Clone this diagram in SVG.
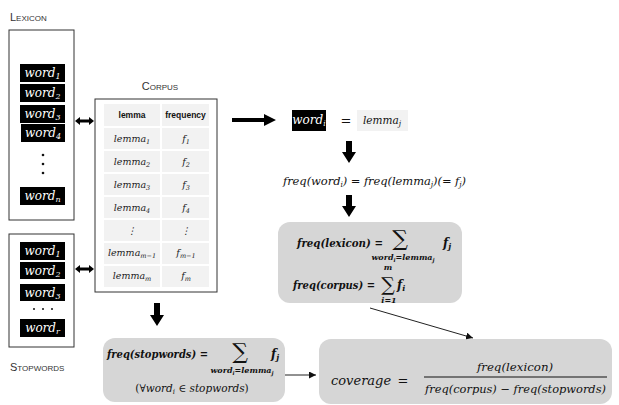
<svg xmlns="http://www.w3.org/2000/svg" width="619" height="405" viewBox="0 0 619 405">
<style>
.lbl{font-family:"Liberation Sans",sans-serif;font-variant:small-caps;font-size:11px;fill:#333}
.frame{fill:#fff;stroke:#333;stroke-width:1}
.wb{fill:#000}
.wt{font-family:"DejaVu Serif",serif;font-style:italic;font-size:12px;fill:#fff;text-anchor:middle}
.cell{fill:#f2f2f2}
.hd{font-family:"Liberation Sans",sans-serif;font-weight:bold;font-size:8.5px;text-anchor:middle;fill:#111}
.ct{font-family:"DejaVu Serif",serif;font-style:italic;font-size:9.5px;text-anchor:middle;fill:#222}
.gb{fill:#d6d6d6}
.m{font-family:"DejaVu Serif",serif;font-style:italic;fill:#111}
.b{font-weight:bold}
.sum{font-family:"DejaVu Serif",serif;fill:#111;text-anchor:middle}
.blk{fill:#000}
.thin{stroke:#222;stroke-width:1;fill:none}
</style>
<defs>
<marker id="ah" viewBox="0 0 10 10" refX="10" refY="5" markerWidth="7" markerHeight="7" orient="auto" markerUnits="userSpaceOnUse"><path d="M0,0 L10,5 L0,10 z" fill="#111"/></marker>
</defs>

<g id="lexicon">
<text class="lbl" x="10" y="21">Lexicon</text>
<rect class="frame" x="9" y="30" width="65" height="190"/>
<rect class="wb" x="20" y="64" width="45" height="18"/>
<text class="wt" x="42.5" y="77">word<tspan font-size="8" dy="2">1</tspan></text>
<rect class="wb" x="20" y="84" width="45" height="18"/>
<text class="wt" x="42.5" y="97">word<tspan font-size="8" dy="2">2</tspan></text>
<rect class="wb" x="20" y="105" width="45" height="18"/>
<text class="wt" x="42.5" y="118">word<tspan font-size="8" dy="2">3</tspan></text>
<rect class="wb" x="21" y="124" width="44" height="18"/>
<text class="wt" x="43" y="137">word<tspan font-size="8" dy="2">4</tspan></text>
<circle cx="43" cy="155" r="1.3" fill="#111"/>
<circle cx="43" cy="164" r="1.3" fill="#111"/>
<circle cx="43" cy="173" r="1.3" fill="#111"/>
<rect class="wb" x="20" y="187" width="45" height="18"/>
<text class="wt" x="42.5" y="200">word<tspan font-size="8" dy="2">n</tspan></text>
</g>

<g id="stopwords">
<rect class="frame" x="9" y="234" width="65" height="113"/>
<rect class="wb" x="20" y="242" width="45" height="18"/>
<text class="wt" x="42.5" y="255">word<tspan font-size="8" dy="2">1</tspan></text>
<rect class="wb" x="20" y="262" width="45" height="17"/>
<text class="wt" x="42.5" y="274.5">word<tspan font-size="8" dy="2">2</tspan></text>
<rect class="wb" x="20" y="284" width="45" height="17"/>
<text class="wt" x="42.5" y="296.5">word<tspan font-size="8" dy="2">3</tspan></text>
<circle cx="34" cy="309" r="1" fill="#111"/>
<circle cx="43" cy="309" r="1" fill="#111"/>
<circle cx="52" cy="309" r="1" fill="#111"/>
<rect class="wb" x="20" y="319" width="45" height="18"/>
<text class="wt" x="42.5" y="332">word<tspan font-size="8" dy="2">r</tspan></text>
<text class="lbl" x="10" y="371">Stopwords</text>
</g>

<g id="corpus">
<text class="lbl" x="160" y="90" text-anchor="middle">Corpus</text>
<rect class="frame" x="95" y="99" width="122" height="193"/>
<rect class="cell" x="104" y="104" width="56" height="22"/>
<rect class="cell" x="162" y="104" width="47" height="22"/>
<text class="hd" x="132" y="118">lemma</text>
<text class="hd" x="185.5" y="118">frequency</text>
<rect class="cell" x="104" y="128" width="56" height="21"/><rect class="cell" x="162" y="128" width="47" height="21"/>
<rect class="cell" x="104" y="151" width="56" height="21"/><rect class="cell" x="162" y="151" width="47" height="21"/>
<rect class="cell" x="104" y="174" width="56" height="21"/><rect class="cell" x="162" y="174" width="47" height="21"/>
<rect class="cell" x="104" y="197" width="56" height="21"/><rect class="cell" x="162" y="197" width="47" height="21"/>
<rect class="cell" x="104" y="220" width="56" height="21"/><rect class="cell" x="162" y="220" width="47" height="21"/>
<rect class="cell" x="104" y="243" width="56" height="21"/><rect class="cell" x="162" y="243" width="47" height="21"/>
<rect class="cell" x="104" y="266" width="56" height="21"/><rect class="cell" x="162" y="266" width="47" height="21"/>
<text class="ct" x="132" y="142">lemma<tspan font-size="6.5" dy="2">1</tspan></text>
<text class="ct" x="186" y="142">f<tspan font-size="6.5" dy="2">1</tspan></text>
<text class="ct" x="132" y="165">lemma<tspan font-size="6.5" dy="2">2</tspan></text>
<text class="ct" x="186" y="165">f<tspan font-size="6.5" dy="2">2</tspan></text>
<text class="ct" x="132" y="188">lemma<tspan font-size="6.5" dy="2">3</tspan></text>
<text class="ct" x="186" y="188">f<tspan font-size="6.5" dy="2">3</tspan></text>
<text class="ct" x="132" y="211">lemma<tspan font-size="6.5" dy="2">4</tspan></text>
<text class="ct" x="186" y="211">f<tspan font-size="6.5" dy="2">4</tspan></text>
<text class="ct" x="132" y="234">⋮</text>
<text class="ct" x="186" y="234">⋮</text>
<text class="ct" x="132" y="256">lemma<tspan font-size="6.5" dy="2">m−1</tspan></text>
<text class="ct" x="186" y="256">f<tspan font-size="6.5" dy="2">m−1</tspan></text>
<text class="ct" x="132" y="279">lemma<tspan font-size="6.5" dy="2">m</tspan></text>
<text class="ct" x="186" y="279">f<tspan font-size="6.5" dy="2">m</tspan></text>
</g>

<g id="match">
<rect class="wb" x="292" y="110" width="34" height="21"/>
<text class="wt" x="309" y="124" font-size="11">word<tspan font-size="7.5" dy="2">i</tspan></text>
<text class="m" x="346" y="125" font-size="13" text-anchor="middle" font-style="normal">=</text>
<rect class="cell" x="357" y="110" width="51" height="21"/>
<text class="m" x="382" y="124" font-size="10.5" text-anchor="middle">lemma<tspan font-size="7.5" dy="2">j</tspan></text>
</g>

<g id="freq-eq">
<text class="m" x="283" y="185" font-size="11.5" textLength="183" lengthAdjust="spacing">freq(word<tspan font-size="7.5" dy="2">i</tspan><tspan dy="-2">) = freq(lemma</tspan><tspan font-size="7.5" dy="2">j</tspan><tspan dy="-2">)(= f</tspan><tspan font-size="7.5" dy="2">j</tspan><tspan dy="-2">)</tspan></text>
</g>

<g id="lexicon-corpus-freq">
<rect class="gb" x="278" y="222" width="184" height="81" rx="12"/>
<text class="m b" x="297" y="247" font-size="11" textLength="86" lengthAdjust="spacingAndGlyphs">freq(lexicon) =</text>
<text class="sum" x="400" y="246" font-size="22">∑</text>
<text class="m b" x="403" y="260" font-size="8" text-anchor="middle">word<tspan font-size="5.5" dy="1.5">i</tspan><tspan dy="-1.5">=lemma</tspan><tspan font-size="5.5" dy="1.5">j</tspan></text>
<text class="m b" x="443" y="247" font-size="12">f<tspan font-size="8" dy="2">j</tspan></text>
<text class="m b" x="293" y="289" font-size="11" textLength="82" lengthAdjust="spacingAndGlyphs">freq(corpus) =</text>
<text class="m b" x="388" y="270" font-size="8" text-anchor="middle">m</text>
<text class="sum" x="388" y="291" font-size="19">∑</text>
<text class="m b" x="389" y="303" font-size="8" text-anchor="middle">i=1</text>
<text class="m b" x="397" y="289" font-size="12">f<tspan font-size="8" dy="2">i</tspan></text>
</g>

<g id="stopwords-freq">
<rect class="gb" x="103" y="338" width="182" height="64" rx="12"/>
<text class="m b" x="107" y="358" font-size="11" textLength="101" lengthAdjust="spacingAndGlyphs">freq(stopwords) =</text>
<text class="sum" x="240" y="359" font-size="22">∑</text>
<text class="m b" x="242" y="373" font-size="8" text-anchor="middle">word<tspan font-size="5.5" dy="1.5">i</tspan><tspan dy="-1.5">=lemma</tspan><tspan font-size="5.5" dy="1.5">j</tspan></text>
<text class="m b" x="271" y="358" font-size="12">f<tspan font-size="8" dy="2">j</tspan></text>
<text class="m" x="192" y="392" font-size="10.5" text-anchor="middle"><tspan font-style="normal">(∀</tspan>word<tspan font-size="7" dy="2">i</tspan><tspan dy="-2" font-style="normal"> ∈ </tspan>stopwords<tspan font-style="normal">)</tspan></text>
</g>

<g id="coverage">
<rect class="gb" x="319" y="339" width="293" height="65" rx="12"/>
<text class="m" x="331" y="385" font-size="13">coverage</text>
<text class="m" x="403" y="385" font-size="13" font-style="normal" text-anchor="middle">=</text>
<text class="m" x="515" y="371" font-size="11.8" text-anchor="middle">freq(lexicon)</text>
<line x1="424" y1="377" x2="607" y2="377" stroke="#111" stroke-width="1"/>
<text class="m" x="515.5" y="393" font-size="11.4" text-anchor="middle">freq(corpus) − freq(stopwords)</text>
</g>

<g id="connectors">
<path class="blk" d="M75,121 L80,117 L80,119.5 L89,119.5 L89,117 L94,121 L89,125 L89,122.5 L80,122.5 L80,125 Z"/>
<path class="blk" d="M75,269 L80,265 L80,267.5 L89,267.5 L89,265 L94,269 L89,273 L89,270.5 L80,270.5 L80,273 Z"/>
<path class="blk" d="M232,118 L264,118 L264,114 L276,120 L264,126 L264,122 L232,122 Z"/>
<path class="blk" d="M346,141 L352,141 L352,152 L356,152 L349,163 L342,152 L346,152 Z"/>
<path class="blk" d="M346,195 L352,195 L352,206 L356,206 L349,217 L342,206 L346,206 Z"/>
<path class="blk" d="M154,303 L160,303 L160,315 L164,315 L157,326 L150,315 L154,315 Z"/>
<line class="thin" x1="370" y1="308" x2="473" y2="338" marker-end="url(#ah)"/>
<line class="thin" x1="285" y1="375" x2="316" y2="375" marker-end="url(#ah)"/>
</g>
</svg>
